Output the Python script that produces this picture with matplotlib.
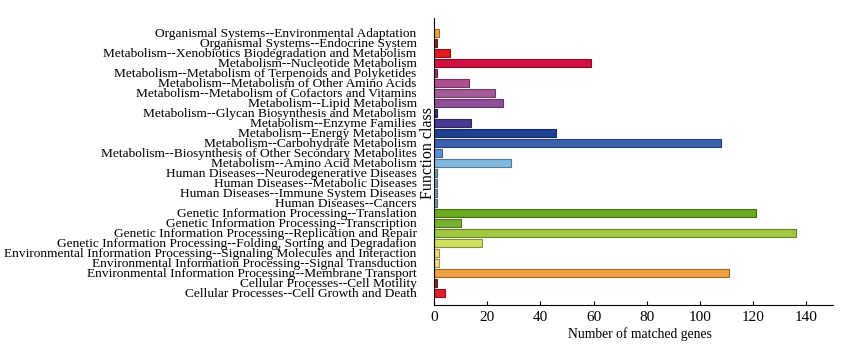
import matplotlib
matplotlib.use('Agg')
import matplotlib.pyplot as plt
import numpy as np

# categories, top to bottom as in the picture
categories = [
    'Organismal Systems--Environmental Adaptation',
    'Organismal Systems--Endocrine System',
    'Metabolism--Xenobiotics Biodegradation and Metabolism',
    'Metabolism--Nucleotide Metabolism',
    'Metabolism--Metabolism of Terpenoids and Polyketides',
    'Metabolism--Metabolism of Other Amino Acids',
    'Metabolism--Metabolism of Cofactors and Vitamins',
    'Metabolism--Lipid Metabolism',
    'Metabolism--Glycan Biosynthesis and Metabolism',
    'Metabolism--Enzyme Families',
    'Metabolism--Energy Metabolism',
    'Metabolism--Carbohydrate Metabolism',
    'Metabolism--Biosynthesis of Other Secondary Metabolites',
    'Metabolism--Amino Acid Metabolism',
    'Human Diseases--Neurodegenerative Diseases',
    'Human Diseases--Metabolic Diseases',
    'Human Diseases--Immune System Diseases',
    'Human Diseases--Cancers',
    'Genetic Information Processing--Translation',
    'Genetic Information Processing--Transcription',
    'Genetic Information Processing--Replication and Repair',
    'Genetic Information Processing--Folding, Sorting and Degradation',
    'Environmental Information Processing--Signaling Molecules and Interaction',
    'Environmental Information Processing--Signal Transduction',
    'Environmental Information Processing--Membrane Transport',
    'Cellular Processes--Cell Motility',
    'Cellular Processes--Cell Growth and Death',
]
genes = [2, 1, 6, 59, 1, 13, 23, 26, 1, 14, 46, 108, 3, 29,
         1, 1, 1, 1, 121, 10, 136, 18, 2, 2, 111, 1, 4]
colors = ['#e8a840', '#8b2a1a', '#e01a20', '#d01040', '#9a3070', '#b04f90',
          '#a55a9a', '#8e4f98', '#403070', '#4a3a90', '#1f3f8f', '#3a60b0',
          '#5a90d0', '#80b8e0', '#70a0a0', '#70a0a0', '#70a0a0', '#70a0a0',
          '#6aaa20', '#7ab030', '#a0c840', '#d0e060', '#e8e070', '#f0e080',
          '#f0a040', '#903020', '#e0202a']

plt.rcParams['font.family'] = ['Liberation Serif', 'DejaVu Serif']

fig = plt.figure(figsize=(8.53, 3.5), dpi=100)
ax = fig.add_axes([434/853, 45/350, 399/853, 287/350])

y = np.arange(len(categories))[::-1]
edges = [matplotlib.colors.to_rgba(c) for c in colors]
edges = [(r*0.65, g*0.65, b*0.65, 1) for r, g, b, a in edges]
ax.barh(y, genes, height=0.8, color=colors, edgecolor=edges, linewidth=0.8)

ax.set_xlim(0, 150)
ax.set_ylim(-1.2, 27.45)
ax.set_yticks(y)
ax.set_yticklabels(categories, fontsize=9.6)
ax.tick_params(axis='y', length=0, pad=12.5)
ax.set_xticks([0, 20, 40, 60, 80, 100, 120, 140])
ax.tick_params(axis='x', direction='in', length=3, labelsize=11, pad=4)
for s in ['top', 'right']:
    ax.spines[s].set_visible(False)
ax.set_xlabel('Number of matched genes', fontsize=9.8)
ax.xaxis.set_label_coords(0.515, -0.076)
ax.set_ylabel('Function class', fontsize=11.5)
ax.yaxis.set_label_coords(0.005, 0.53)

fig.savefig('out.png', dpi=100)
